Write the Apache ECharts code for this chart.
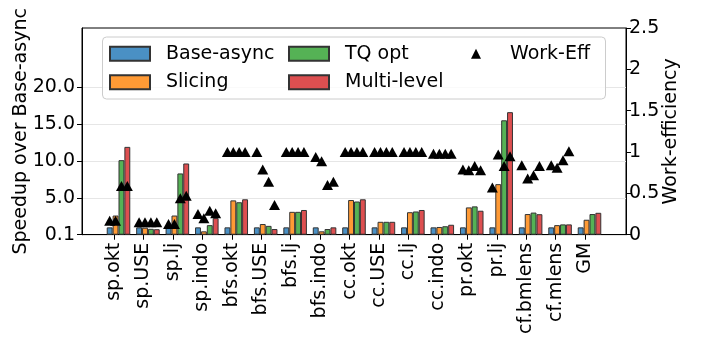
<!DOCTYPE html>
<html>
<head>
<meta charset="utf-8">
<script src="https://cdn.jsdelivr.net/npm/echarts@6/dist/echarts.min.js"></script>
<style>
  html, body { margin: 0; padding: 0; background: #fff; }
  #chart { width: 702px; height: 337px; }
</style>
</head>
<body>
<div id="chart"></div>
<script>
// Benchmarks (graph kernel . input)
const categories = ['sp.okt', 'sp.USE', 'sp.lj', 'sp.indo', 'bfs.okt', 'bfs.USE', 'bfs.lj', 'bfs.indo',
  'cc.okt', 'cc.USE', 'cc.lj', 'cc.indo', 'pr.okt', 'pr.lj', 'cf.bmlens', 'cf.mlens', 'GM'];

// Speedup over Base-async
const baseAsync  = [1, 1, 1, 1, 1, 1, 1, 1, 1, 1, 1, 1, 1, 1, 1, 1, 1];
const slicing    = [2.6, 0.95, 2.6, 0.46, 4.65, 1.45, 3.1, 0.46, 4.7, 1.75, 3.05, 1.05, 3.7, 6.85, 2.8, 1.3, 2.03];
const tqOpt      = [10.1, 0.8, 8.3, 1.3, 4.4, 1.2, 3.1, 0.77, 4.5, 1.75, 3.15, 1.15, 3.84, 15.5, 3.0, 1.4, 2.8];
const multiLevel = [11.9, 0.75, 9.65, 2.25, 4.8, 0.77, 3.35, 1.0, 4.8, 1.75, 3.35, 1.35, 3.25, 16.6, 2.78, 1.4, 2.97];

// Work-efficiency of each variant (no marker for GM)
const weBase       = [0.17, 0.15, 0.13, 0.25, 1.0, 1.0, 1.0, 0.94, 1.0, 1.0, 1.0, 0.98, 0.79, 0.57, 0.84, 0.84, null];
const weSlicing    = [0.17, 0.15, 0.13, 0.20, 1.0, 0.79, 1.0, 0.89, 1.0, 1.0, 1.0, 0.98, 0.78, 0.97, 0.68, 0.81, null];
const weTqOpt      = [0.59, 0.15, 0.44, 0.29, 1.0, 0.64, 1.0, 0.60, 1.0, 1.0, 1.0, 0.98, 0.83, 0.83, 0.72, 0.90, null];
const weMultiLevel = [0.59, 0.15, 0.47, 0.26, 1.0, 0.36, 1.0, 0.64, 1.0, 1.0, 1.0, 0.98, 0.78, 0.95, 0.83, 1.01, null];

// Left-axis tick values and their labels
const speedupTicks = [0, 5, 10, 15, 20];
const speedupTickLabels = ['0.1', '5.0', '10.0', '15.0', '20.0'];

const seriesNames = ['Base-async', 'Slicing', 'TQ opt', 'Multi-level'];
const speedups = [baseAsync, slicing, tqOpt, multiLevel];
const workEff = [weBase, weSlicing, weTqOpt, weMultiLevel];
const colors = ['#4a90c4', '#ff9a35', '#55b255', '#dd4f50'];

// Bar i of group k sits at k + i*BAR_W; tick sits under the group
const BAR_W = 0.2;
const TICK_OFF = 0.15;
const X_MIN = -0.94, X_MAX = 17.54;

const FONT = 'DejaVu Sans';
const FS = 19;

const barSeries = speedups.map((vals, i) => ({
  name: seriesNames[i],
  type: 'bar',
  xAxisIndex: 0,
  yAxisIndex: 0,
  barWidth: '100%',
  barGap: '-100%',
  itemStyle: { color: colors[i], borderColor: '#333', borderWidth: 1 },
  data: vals.map((v, k) => [k + i * BAR_W, v]),
  z: 2
}));

const effPoints = [];
workEff.forEach((vals, i) => {
  vals.forEach((v, k) => { if (v != null) effPoints.push([k + i * BAR_W, v]); });
});

const tickPos = categories.map((c, k) => k + TICK_OFF);

const chart = echarts.init(document.getElementById('chart'), null, { renderer: 'canvas' });

const GRID_TOP = 28, GRID_H = 207, Y_MAX = 28;
const gridTop2 = GRID_TOP + GRID_H * (1 - 20 / Y_MAX);

chart.setOption({
  animation: false,
  backgroundColor: '#fff',
  textStyle: { fontFamily: FONT },
  grid: [
    { left: 82, right: 76, top: GRID_TOP, height: GRID_H, show: true, borderColor: '#000', borderWidth: 1, containLabel: false },
    // background grid holding the speedup grid lines (5..20)
    { left: 82, right: 76, top: gridTop2, height: GRID_H - (gridTop2 - GRID_TOP), show: false }
  ],
  xAxis: [
    {
      type: 'value', gridIndex: 0, min: X_MIN, max: X_MAX,
      axisLine: { show: true, onZero: false, lineStyle: { color: '#000', width: 1 } },
      axisTick: { show: true, length: 5, customValues: tickPos, lineStyle: { color: '#000' } },
      axisLabel: {
        customValues: tickPos, rotate: 90, margin: 8,
        fontFamily: FONT, fontSize: FS, color: '#000',
        formatter: v => categories[Math.round(v - TICK_OFF)] || ''
      },
      splitLine: { show: false }
    },
    {
      type: 'value', gridIndex: 1, min: X_MIN, max: X_MAX, show: false
    }
  ],
  yAxis: [
    {
      type: 'value', gridIndex: 0, min: 0, max: Y_MAX, interval: 5,
      name: 'Speedup over Base-async', nameLocation: 'middle', nameGap: 51, nameRotate: 90,
      nameMoveOverlap: false,
      nameTextStyle: { fontFamily: FONT, fontSize: FS, color: '#000' },
      axisLine: { show: true, onZero: false, lineStyle: { color: '#000', width: 1 } },
      axisTick: { show: true, length: 5, customValues: speedupTicks, lineStyle: { color: '#000' } },
      axisLabel: {
        customValues: speedupTicks, margin: 7,
        fontFamily: FONT, fontSize: FS, color: '#000',
        formatter: v => speedupTickLabels[speedupTicks.indexOf(v)] || ''
      },
      splitLine: { show: false }
    },
    {
      type: 'value', gridIndex: 0, min: 0, max: 2.5, interval: 0.5, position: 'right',
      name: 'Work-efficiency', nameLocation: 'middle', nameGap: 36, nameRotate: 90,
      nameMoveOverlap: false,
      nameTextStyle: { fontFamily: FONT, fontSize: FS, color: '#000' },
      axisLine: { show: true, onZero: false, lineStyle: { color: '#000', width: 1 } },
      axisTick: { show: true, length: 5, lineStyle: { color: '#000' } },
      axisLabel: { margin: 3, fontFamily: FONT, fontSize: FS, color: '#000' },
      splitLine: { show: false }
    },
    {
      type: 'value', gridIndex: 1, min: 0, max: 20, interval: 5,
      axisLine: { show: false, onZero: false }, axisTick: { show: false }, axisLabel: { show: false },
      splitLine: { show: true, lineStyle: { color: '#e6e6e6', width: 1 } }
    }
  ],
  legend: [
    {
      data: ['Base-async', 'Slicing'], orient: 'vertical', left: 109, top: 44.2, padding: 0,
      icon: 'rect', itemWidth: 40, itemHeight: 14, itemGap: 9.5, z: 20,
      textStyle: { fontFamily: FONT, fontSize: FS, color: '#000', lineHeight: 19, padding: [0, 0, 0, 11] }
    },
    {
      data: ['TQ opt', 'Multi-level'], orient: 'vertical', left: 288, top: 44.2, padding: 0,
      icon: 'rect', itemWidth: 40, itemHeight: 14, itemGap: 9.5, z: 20,
      textStyle: { fontFamily: FONT, fontSize: FS, color: '#000', lineHeight: 19, padding: [0, 0, 0, 11] }
    },
    {
      data: [{ name: 'Work-Eff', icon: 'triangle' }], orient: 'vertical', left: 471, top: 44.2, padding: 0,
      itemWidth: 10, itemHeight: 10, z: 20,
      textStyle: { fontFamily: FONT, fontSize: FS, color: '#000', lineHeight: 19, padding: [0, 0, 0, 24] }
    }
  ],
  graphic: [
    {
      type: 'rect', z: 10, silent: true,
      shape: { x: 102.5, y: 37, width: 503, height: 62, r: 4 },
      style: { fill: 'rgba(255,255,255,0.8)', stroke: '#cccccc', lineWidth: 1 }
    }
  ],
  series: barSeries.concat([
    {
      name: 'Work-Eff',
      type: 'scatter',
      xAxisIndex: 0,
      yAxisIndex: 1,
      symbol: 'triangle',
      symbolSize: [11, 10],
      itemStyle: { color: '#000', opacity: 1 },
      data: effPoints,
      z: 5
    }
  ])
});
</script>
</body>
</html>
